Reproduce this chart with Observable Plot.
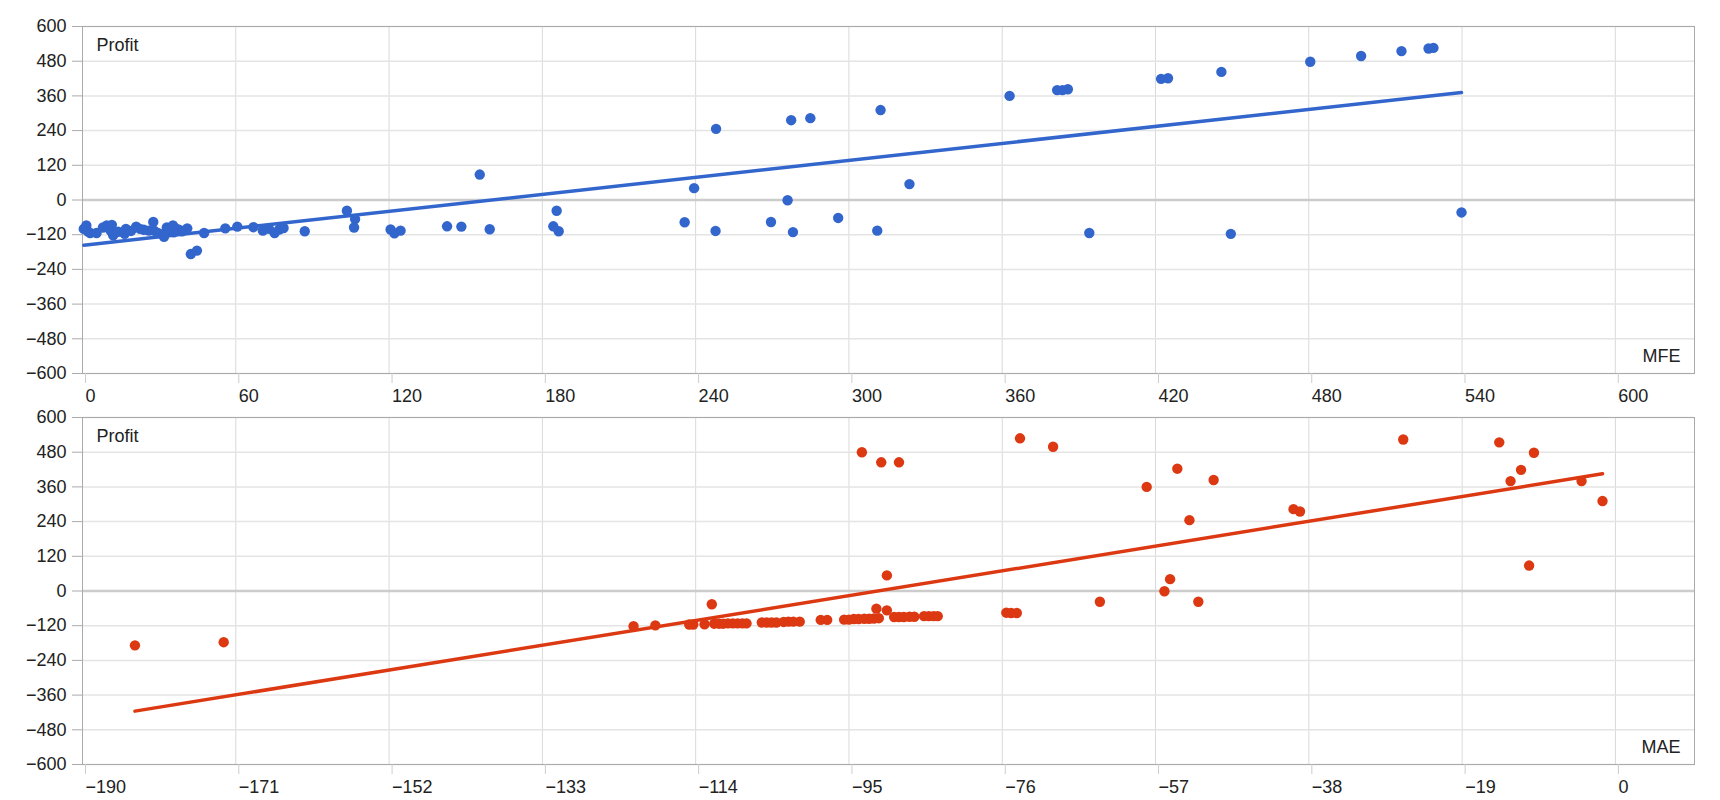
<!DOCTYPE html>
<html>
<head>
<meta charset="utf-8">
<script src="https://cdn.jsdelivr.net/npm/d3@7"></script>
<script src="https://cdn.jsdelivr.net/npm/@observablehq/plot@0.6"></script>
<style>
  body { margin: 0; background: #fff; }
  #chart { width: 1720px; }
  #chart svg { display: block; }
</style>
</head>
<body>
<div id="chart"></div>
<script>
// ---- Data ----
const mfeValues = [
  0.5, 1.5, 2, 3, 5.5, 8, 9.5, 11.5, 11, 12, 14, 16.5, 17, 19, 21, 22.5, 24, 26, 27.7, 28,
  29.5, 31.9, 32.5, 33, 34, 35.4, 35.7, 36.5, 37.8, 39, 41, 42.4, 44.8, 47.6,
  55.9, 60.6, 66.9, 70.6, 73, 75.2, 77, 78.7, 87, 103.5, 106.7, 106.3, 120.6, 122.1, 124.5,
  142.7, 148.3, 155.5, 159.4, 184.3, 185.6, 186.4,
  235.7, 239.4, 248, 247.8, 269.5, 276, 277.4, 278.1, 284.9, 295.8, 311.1, 312.4, 323.7,
  362.9, 381.5, 383.6, 385.7, 394.1,
  422.2, 424.9, 445.8, 449.5, 480.6, 500.5, 516.3, 526.9, 528.8, 539.8
];
const mfeProfit = [
  -100, -88, -108, -114, -114, -95, -88, -86, -106, -122, -110, -117, -100, -107, -92, -100, -103, -106, -76, -106,
  -114, -127, -112, -95, -102, -88, -112, -98, -103, -108, -98, -187, -175, -114,
  -98, -92, -94, -106, -100, -114, -102, -97, -108, -37, -66, -95, -102, -115, -106,
  -91, -92, 88, -101, -91, -37, -108,
  -77, 41, 246, -107, -76, -1, 276, -111, 283, -62, -106, 311, 55,
  360, 380, 380, 383, -114,
  419, 421, 443, -117, 478, 498, 515, 524, 526, -43
];
const maeValues = [
  -183.5, -172.5,
  -121.7, -119,
  -114.8, -114.3, -112.9, -112,
  -111.7, -111.1, -110.6, -110, -109.4, -108.8, -108.2, -107.7,
  -105.8, -105.2, -104.6, -104, -103.1, -102.5, -101.9, -101.1,
  -98.5, -97.7,
  -95.6, -95, -94.4, -93.8, -93.1, -92.5, -91.9, -91.3,
  -93.4, -91.6, -90.3, -90.3, -91, -88.8,
  -89.4, -88.8, -88.2, -87.5, -86.9,
  -85.7, -85.1, -84.5, -84,
  -75.5, -74.9, -74.2,
  -73.8, -69.7,
  -63.9, -58.1, -55.9, -55.2, -54.3, -52.8, -51.7, -49.8,
  -39.9, -39.1, -26.3, -14.4, -13, -11.7, -10.7, -10.1, -4.2, -1.6
];
const maeProfit = [
  -188, -177,
  -122, -119,
  -116, -116, -115, -46,
  -113, -113, -113, -112, -112, -112, -112, -112,
  -109, -109, -109, -109, -107, -106, -106, -106,
  -100, -100,
  -99, -99, -97, -97, -96, -96, -95, -94,
  480, -61, 54, -67, 445, 445,
  -90, -90, -90, -89, -89,
  -87, -87, -87, -87,
  -75, -76, -76,
  528, 499,
  -37, 360, -1, 41, 423, 245, -37, 384,
  283, 275, 524, 514, 380, 419, 88, 478, 380, 311
];
const profitTicks = [-600, -480, -360, -240, -120, 0, 120, 240, 360, 480, 600];
const mfeTicks = [0, 60, 120, 180, 240, 300, 360, 420, 480, 540, 600];
const maeTicks = [-190, -171, -152, -133, -114, -95, -76, -57, -38, -19, 0];

const mfeData = mfeValues.map((v, i) => ({x: v, y: mfeProfit[i]}));
const maeData = maeValues.map((v, i) => ({x: v, y: maeProfit[i]}));

function panel({data, color, xDomain, xTicks, xLabel, marginTop, marginBottom}) {
  return Plot.plot({
    width: 1720,
    height: 400,
    marginLeft: 82,
    marginRight: 26,
    marginTop,
    marginBottom,
    style: {
      fontFamily: "'Liberation Sans', Arial, sans-serif",
      fontSize: "18px",
      color: "#222",
      background: "#fff",
      overflow: "visible"
    },
    x: {domain: xDomain},
    y: {domain: [-600, 600]},
    marks: [
      Plot.gridX(xTicks, {stroke: "#d9d9d9", strokeOpacity: 1}),
      Plot.gridY(profitTicks.filter(d => d !== 0), {stroke: "#e4e4e4", strokeOpacity: 1, strokeWidth: 1.5}),
      Plot.ruleY([0], {stroke: "#cccccc", strokeWidth: 2.5}),
      Plot.frame({stroke: "#aaaaaa"}),
      Plot.axisY(profitTicks, {tickSize: 10, tickPadding: 6, stroke: "#aaaaaa", label: null}),
      Plot.axisX(xTicks, {tickSize: 10, tickPadding: 6, stroke: "#cccccc", textAnchor: "start", dx: 3, label: null}),
      Plot.linearRegressionY(data, {x: "x", y: "y", stroke: color, strokeWidth: 3.5, ci: 0}),
      Plot.dot(data, {x: "x", y: "y", r: 5.2, fill: color, stroke: "none"}),
      Plot.text(["Profit"], {frameAnchor: "top-left", dx: 14, dy: 19, textAnchor: "start", lineAnchor: "middle", fill: "#222"}),
      Plot.text([xLabel], {frameAnchor: "bottom-right", dx: -14, dy: -17, textAnchor: "end", lineAnchor: "middle", fill: "#222"})
    ]
  });
}

const chart = document.getElementById("chart");
chart.append(panel({data: mfeData, color: "#3366cc", xDomain: [0, 631], xTicks: mfeTicks, xLabel: "MFE", marginTop: 26, marginBottom: 27}));
chart.append(panel({data: maeData, color: "#dc3912", xDomain: [-190, 9.8], xTicks: maeTicks, xLabel: "MAE", marginTop: 17, marginBottom: 36}));
</script>
</body>
</html>
